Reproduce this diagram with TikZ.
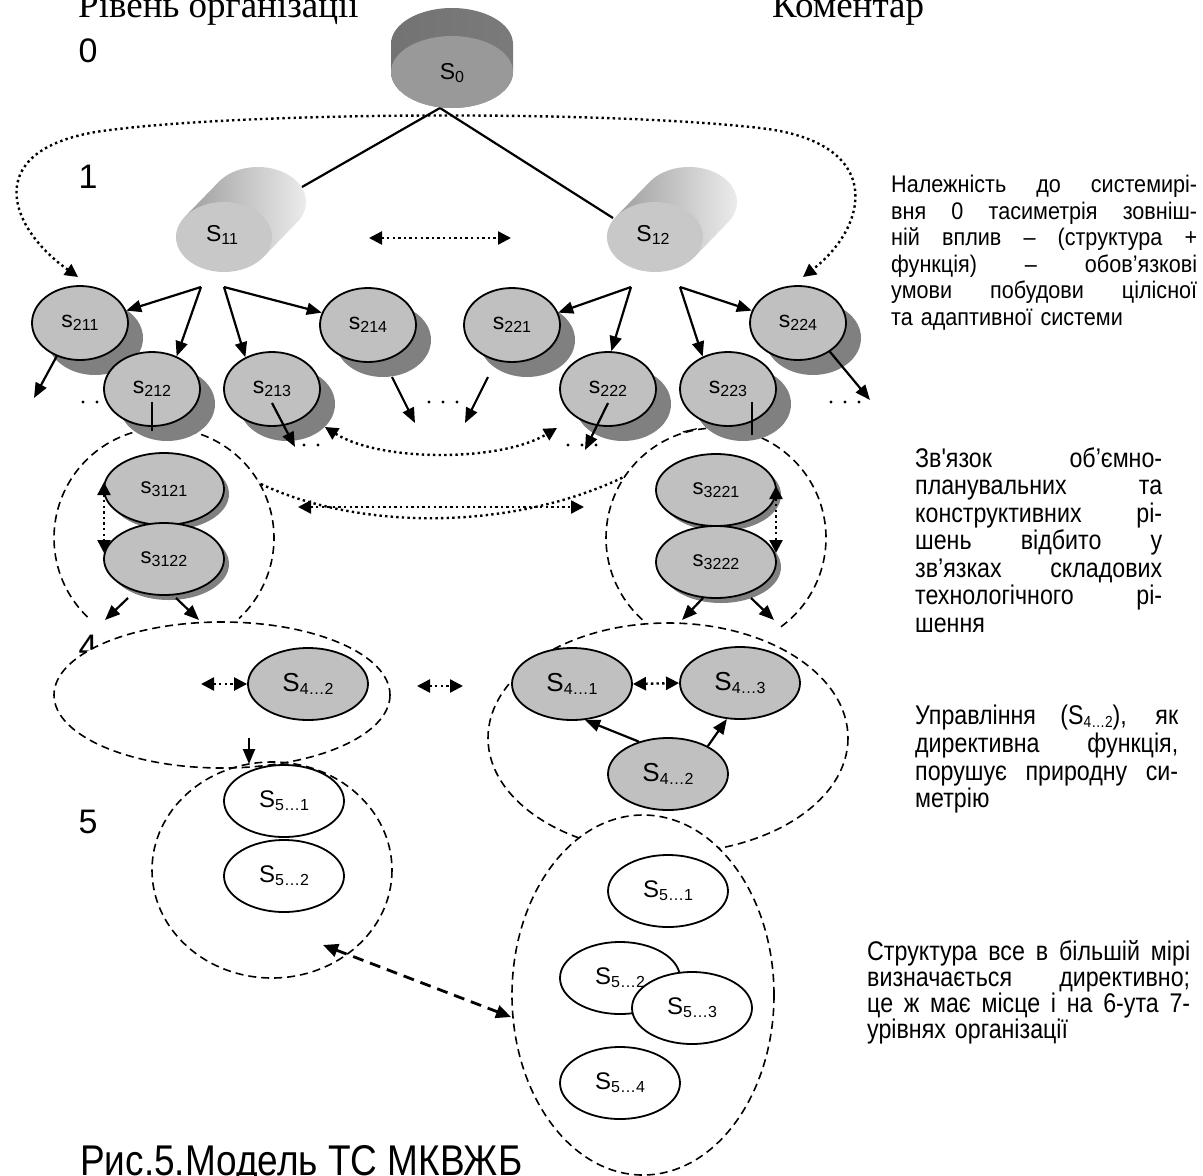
\documentclass[tikz,border=0pt]{standalone}
\usepackage{fontspec}
\setmainfont{Liberation Sans}
\newfontfamily\hdrfont{Liberation Serif}
\newfontfamily\narrowfont[FakeStretch=0.86]{Liberation Sans}
\newfontfamily\cmtfont[FakeStretch=0.9]{Liberation Sans}
\usetikzlibrary{shapes,calc,arrows.meta,shadows,positioning}
\definecolor{cnode}{HTML}{C0C0C0}
\definecolor{cshadow}{HTML}{808080}
\definecolor{cdisk}{HTML}{999999}
\definecolor{ccyl}{HTML}{C8C8C8}
\tikzstyle{l1}=[line width=2.2]
\tikzstyle{arr}=[l1, -{Triangle[length=15pt,width=12pt]}]
\tikzstyle{darr}=[line width=2.4, dash pattern=on 2.4pt off 3.2pt, {Triangle[length=13pt,width=13pt]}-{Triangle[length=13pt,width=13pt]}]
\tikzstyle{ddarr}=[line width=2.8, dash pattern=on 11pt off 7pt, {Triangle[length=15pt,width=13pt]}-{Triangle[length=15pt,width=13pt]}]
\tikzstyle{dline}=[line width=1.6, dash pattern=on 8pt off 5pt]
\tikzstyle{sell}=[ellipse, draw=black, line width=1.8, inner sep=0pt, minimum width=120pt, minimum height=72pt]
\tikzstyle{snode2}=[sell, fill=cnode, minimum width=96pt, minimum height=74pt, font=\fontsize{23}{23}\selectfont, drop shadow={shadow xshift=15pt, shadow yshift=-15pt, fill=cshadow, opacity=1}]
\tikzstyle{snode3}=[sell, fill=cnode, font=\fontsize{22}{22}\selectfont, drop shadow={shadow xshift=5pt, shadow yshift=-5pt, fill=cshadow, opacity=1}]
\tikzstyle{snode4}=[sell, fill=cnode, font=\fontsize{26}{26}\selectfont]
\tikzstyle{snode5}=[sell, fill=white, font=\fontsize{24}{24}\selectfont]
\tikzstyle{lvl}=[font=\fontsize{34}{34}\selectfont, anchor=base, inner sep=0pt]
\tikzstyle{cmt}=[anchor=north west, inner sep=0pt, align=left]
\newlength\cmtw
\newcommand{\ssub}[1]{\raisebox{-3pt}{\fontsize{16}{16}\selectfont #1}}
\newcommand{\jline}[1]{\noindent\hbox to \cmtw{\spaceskip=0.28em plus 1fil\relax #1}}
\newcommand{\dotrow}[3]{\foreach \i in {1,...,#3} \fill ({#1+14*(\i-1)},#2) circle[radius=1.7];}

\begin{document}
\begin{tikzpicture}[x=1pt, y=-1pt]
    \useasboundingbox (0,0) rectangle (1203,1176);

    % headings and level numbers
    \node[anchor=base west, inner sep=0pt, font=\hdrfont\fontsize{37}{37}\selectfont] (hdr1) at (78,17) {Рівень організації};
    \node[anchor=base west, inner sep=0pt, font=\hdrfont\fontsize{37}{37}\selectfont] (hdr2) at (772,17) {Коментар};
    \node[lvl] (l0) at (88,62) {0};
    \node[lvl] (l1) at (88,188) {1};
    \node[lvl] (l4) at (88,658) {4};
    \node[lvl] (l5) at (88,833) {5};

    % level 0 - 1
    \coordinate (apex) at (440,108);
    \coordinate (top11) at (302,187);
    \coordinate (top12) at (613,218);
    \coordinate (bl) at (78,277);
    \coordinate (br) at (803,277);
    \draw[darr] (bl) .. controls (5,225) and (-20,145) .. (110,130) .. controls (250,112) and (600,110) .. (760,128) .. controls (885,142) and (870,225) .. (br);
    \draw[l1] (top11) -- (apex) -- (top12);

    \shade[left color=black!55, middle color=black!40, right color=black!52] (391,44) arc[start angle=180, end angle=360, x radius=61, y radius=36] -- (513,72) arc[start angle=0, end angle=180, x radius=61, y radius=36] -- cycle;
    \fill[cdisk] (452,72) ellipse[x radius=61, y radius=36];
    \node[font=\fontsize{23}{23}\selectfont] (s0) at (452,73) {S\ssub{0}};

    \shade[left color=black!38, right color=black!6] (263.2,257.2) -- (297.2,222.2) arc[start angle=35.3, end angle=-144.7, x radius=48, y radius=35] -- (184.8,216.8) -- cycle;
    \fill[ccyl] (224,237) ellipse[x radius=48, y radius=35];
    \node[font=\fontsize{23}{23}\selectfont] (s11) at (222,235) {S\ssub{11}};

    \shade[left color=black!38, right color=black!6] (694.2,257.2) -- (728.2,222.2) arc[start angle=35.3, end angle=-144.7, x radius=48, y radius=35] -- (615.8,216.8) -- cycle;
    \fill[ccyl] (655,237) ellipse[x radius=48, y radius=35];
    \node[font=\fontsize{23}{23}\selectfont] (s12) at (653,235) {S\ssub{12}};

    \coordinate (m1) at (369,238);
    \coordinate (m2) at (511,238);
    \draw[darr] (m1) -- (m2);

    % level 3 links under the circles
    \coordinate (w1) at (188,431);
    \coordinate (w2) at (697,428);
    \draw[darr] (w1) .. controls (300,545) and (560,545) .. (w2);
    \draw[dline, fill=white] (164,538) ++(134:110) arc[start angle=134, end angle=407, radius=110];
    \draw[dline, fill=white] (716,538) ++(132:110) arc[start angle=132, end angle=416, radius=110];

    % level 2
    \dotrow{83}{402}{3}
    \dotrow{429}{402}{3}
    \dotrow{304}{445}{2}
    \dotrow{568}{445}{3}
    \dotrow{831}{402}{3}
    \node[snode2] (s211) at (80,323) {s\ssub{211}};
    \node[snode2] (s212) at (152,389) {s\ssub{212}};
    \node[snode2] (s214) at (368,325) {s\ssub{214}};
    \node[snode2] (s213) at (272,389) {s\ssub{213}};
    \node[snode2] (s221) at (512,325) {s\ssub{221}};
    \node[snode2] (s222) at (608,389) {s\ssub{222}};
    \node[snode2] (s224) at (798,323) {s\ssub{224}};
    \node[snode2] (s223) at (728,389) {s\ssub{223}};

    \coordinate (a11) at (201,287); \coordinate (b11) at (224,287);
    \coordinate (a12) at (631,287); \coordinate (b12) at (680,287);
    \draw[arr] (a11) -- (s211.15);
    \draw[arr] (a11) -- (s212.53);
    \draw[arr] (b11) -- (s213.130);
    \draw[arr] (b11) -- (s214.165);
    \draw[arr] (a12) -- (s221.15);
    \draw[arr] (a12) -- (s222.85);
    \draw[arr] (b12) -- (s223.128);
    \draw[arr] (b12) -- (s224.165);

    \coordinate (o211) at (34,398);
    \coordinate (i213) at (272,403); \coordinate (o213) at (295,447);
    \coordinate (i214) at (392,377); \coordinate (o214) at (415,423);
    \coordinate (i221) at (488,377); \coordinate (o221) at (465,423);
    \coordinate (i222) at (608,403); \coordinate (o222) at (585,450);
    \coordinate (o224) at (870,400);
    \draw[arr] (s211.235) -- (o211);
    \draw[arr] (i213) -- (o213);
    \draw[arr] (i214) -- (o214);
    \draw[arr] (i221) -- (o221);
    \draw[arr] (i222) -- (o222);
    \draw[arr] (s224.-42) -- (o224);
    \coordinate (i212) at (152,402); \coordinate (e212) at (152,431);
    \coordinate (i223) at (752,402); \coordinate (e223) at (752,435);
    \draw[l1] (i212) -- (e212);
    \draw[l1] (i223) -- (e223);

    \coordinate (u1) at (325,427);
    \coordinate (u2) at (557,428);
    \draw[darr] (u1) .. controls (380,462) and (500,462) .. (u2);
    \coordinate (r1) at (298,507);
    \coordinate (r2) at (584,507);
    \draw[darr] (r1) -- (r2);

    % level 3
    \node[snode3] (s3121) at (164,489) {s\ssub{3121}};
    \node[snode3] (s3122) at (164,559) {s\ssub{3122}};
    \node[snode3] (s3221) at (716,490) {s\ssub{3221}};
    \node[snode3] (s3222) at (716,562) {s\ssub{3222}};
    \coordinate (v1) at (104,482); \coordinate (v2) at (104,553);
    \coordinate (v3) at (776,486); \coordinate (v4) at (776,553);
    \draw[darr] (v1) -- (v2);
    \draw[darr] (v3) -- (v4);
    \coordinate (p1) at (128,598); \coordinate (q1) at (105,620);
    \coordinate (p2) at (176,598); \coordinate (q2) at (199,620);
    \coordinate (p3) at (703,598); \coordinate (q3) at (682,620);
    \coordinate (p4) at (751,598); \coordinate (q4) at (774,620);
    \draw[arr] (p1) -- (q1);
    \draw[arr] (p2) -- (q2);
    \draw[arr] (p3) -- (q3);
    \draw[arr] (p4) -- (q4);

    % level 4
    \draw[dline, fill=white] (222,695) ellipse[x radius=168, y radius=73];
    \draw[dline, fill=white] (668,738) ellipse[x radius=180, y radius=115];
    \node[snode4] (s42l) at (308,684) {S\ssub{4…2}};
    \node[snode4] (s41) at (572,684) {S\ssub{4…1}};
    \node[snode4] (s43) at (740,683) {S\ssub{4…3}};
    \node[snode4] (s42r) at (668,774) {S\ssub{4…2}};
    \coordinate (h1) at (201,684);
    \coordinate (h2) at (417,686); \coordinate (h3) at (463,686);
    \draw[darr] (h1) -- (s42l.west);
    \draw[darr] (h2) -- (h3);
    \draw[darr] (s41.east) -- (s43.west);
    \draw[arr] (s42r.132) -- (s41.-70);
    \draw[arr] (s42r.35) -- (s43.-110);

    % level 5
    \draw[dline] (272,870) ellipse[x radius=120, y radius=108];
    \draw[dline, fill=white] (643,995) ellipse[x radius=131, y radius=180];
    \node[snode5] (s51l) at (284,801) {S\ssub{5…1}};
    \node[snode5] (s52l) at (284,876) {S\ssub{5…2}};
    \node[snode5] (s51r) at (668,891) {S\ssub{5…1}};
    \node[snode5] (s52r) at (620,978) {S\ssub{5…2}};
    \node[snode5] (s53r) at (692,1008) {S\ssub{5…3}};
    \node[snode5] (s54r) at (620,1083) {S\ssub{5…4}};
    \coordinate (k1) at (249,738); \coordinate (k2) at (249,764);
    \draw[arr] (k1) -- (k2);
    \coordinate (e1) at (323,945); \coordinate (e2) at (511,1017);
    \draw[ddarr] (e1) -- (e2);

    % comments
    \node[cmt, text width=306pt, font=\cmtfont\fontsize{24}{26.6}\selectfont] (c1) at (891,175) {\setlength\cmtw{306pt}%
        \jline{Належність до системирі-}\\
        \jline{вня 0 тасиметрія зовніш-}\\
        \jline{ній вплив – (структура +}\\
        \jline{функція) – обов’язкові}\\
        \jline{умови побудови цілісної}\\
        та адаптивної системи};
    \node[cmt, text width=247pt, font=\narrowfont\fontsize{27}{27.5}\selectfont] (c2) at (915,447) {\setlength\cmtw{247pt}%
        \jline{Зв'язок об’ємно-}\\
        \jline{планувальних та}\\
        \jline{конструктивних рі-}\\
        \jline{шень відбито у}\\
        \jline{зв’язках складових}\\
        \jline{технологічного рі-}\\
        шення};
    \node[cmt, text width=263pt, font=\narrowfont\fontsize{27}{27.7}\selectfont] (c3) at (915,705) {\setlength\cmtw{263pt}%
        \jline{Управління (S\ssub{4…2}), як}\\
        \jline{директивна функція,}\\
        \jline{порушує природну си-}\\
        метрію};
    \node[cmt, text width=323pt, font=\narrowfont\fontsize{27}{26}\selectfont] (c4) at (867,940) {\setlength\cmtw{323pt}%
        \jline{Структура все в більшій мірі}\\
        \jline{визначається директивно;}\\
        \jline{це ж має місце і на 6-ута 7-}\\
        урівнях організації};

    \node[anchor=base west, inner sep=0pt, font=\narrowfont\fontsize{43}{43}\selectfont] (cap) at (80,1175) {Рис.5.Модель ТС МКВЖБ};
\end{tikzpicture}
\end{document}
